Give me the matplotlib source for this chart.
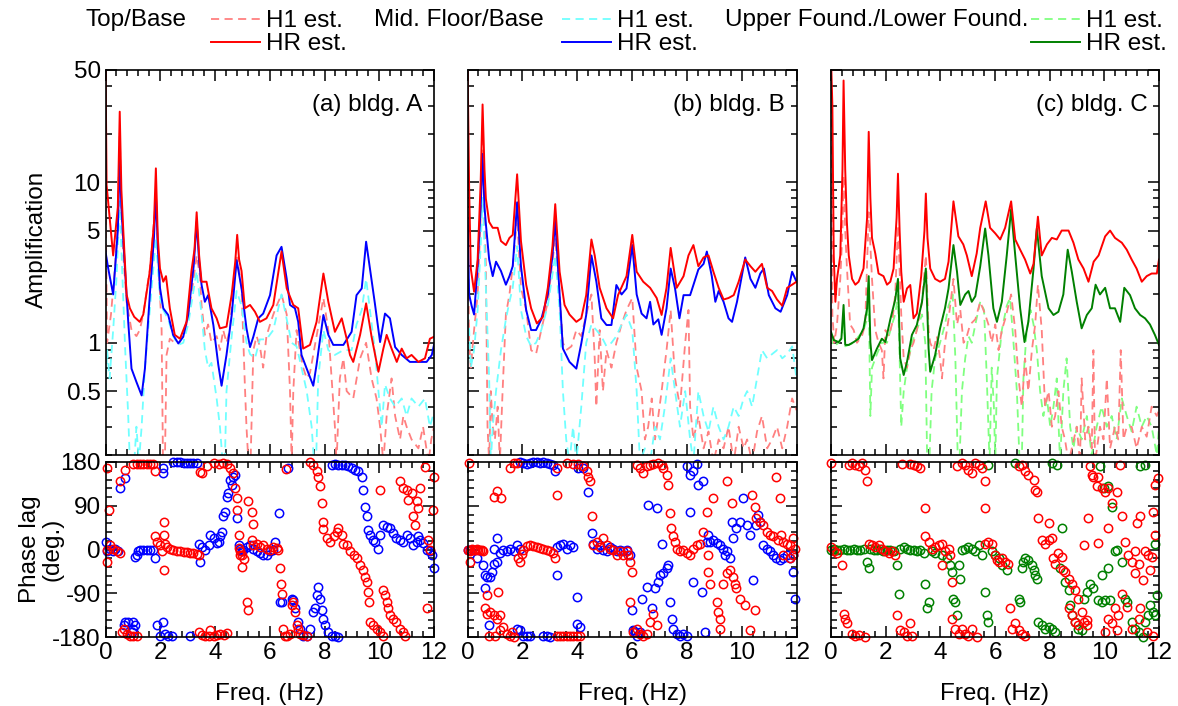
import numpy as np
import matplotlib
matplotlib.use("Agg")
import matplotlib.pyplot as plt
from matplotlib.ticker import FixedLocator, MultipleLocator, NullFormatter, FixedFormatter
from matplotlib.lines import Line2D

plt.rcParams['font.family'] = ['Liberation Sans', 'DejaVu Sans']
plt.rcParams['font.size'] = 17.5
plt.rcParams['axes.unicode_minus'] = False

# ---- amplitude curves (freq Hz, amplification) ----
a_top_hr = [(0.0, 60), (0.04, 9.6), (0.28, 3.5), (0.45, 7.0), (0.52, 27.5), (0.58, 9.0), (0.65, 5.0), (0.77, 2.0),
            (0.89, 1.64), (1.05, 1.45), (1.25, 1.35), (1.38, 1.5), (1.62, 2.8), (1.77, 5.5), (1.84, 12.2), (1.91, 4.5),
            (1.99, 2.9), (2.11, 2.4), (2.21, 2.6), (2.35, 1.64), (2.53, 1.12), (2.72, 1.06), (2.96, 1.35), (3.14, 2.8),
            (3.25, 3.8), (3.33, 6.5), (3.42, 3.5), (3.51, 2.4), (3.69, 2.4), (3.87, 1.64), (4.06, 1.42), (4.18, 1.23),
            (4.42, 1.26), (4.61, 2.0), (4.74, 3.2), (4.81, 4.7), (4.88, 3.3), (4.97, 2.8), (5.09, 1.64), (5.28, 1.72),
            (5.46, 1.56), (5.64, 1.35), (5.88, 1.42), (6.13, 1.72), (6.43, 3.7), (6.62, 2.18), (6.86, 1.72), (7.04, 1.64),
            (7.22, 0.92), (7.47, 0.97), (7.71, 1.35), (7.96, 2.7), (8.14, 1.8), (8.38, 1.17), (8.63, 1.42), (8.81, 1.06),
            (8.93, 0.84), (9.05, 0.76), (9.30, 1.12), (9.52, 1.76), (9.72, 1.09), (9.97, 0.66), (10.15, 0.92),
            (10.27, 1.12), (10.45, 0.92), (10.64, 0.76), (10.82, 0.92), (11.00, 0.80), (11.18, 0.84), (11.43, 0.76),
            (11.67, 0.80), (11.85, 1.06), (12.0, 1.09)]
a_mid_hr = [(0.0, 3.7), (0.10, 2.9), (0.28, 2.0), (0.45, 5.0), (0.52, 14.7), (0.58, 7.0), (0.65, 4.3), (0.83, 1.35),
            (0.95, 0.69), (1.13, 0.57), (1.32, 0.47), (1.44, 0.69), (1.62, 2.0), (1.77, 4.5), (1.84, 8.5), (1.91, 4.0),
            (1.99, 2.2), (2.11, 1.64), (2.29, 1.49), (2.47, 1.12), (2.66, 0.99), (2.84, 1.09), (3.02, 1.49), (3.22, 3.0),
            (3.33, 5.66), (3.42, 3.2), (3.51, 2.29), (3.63, 1.8), (3.75, 1.98), (3.94, 1.29), (4.12, 0.73), (4.24, 0.54),
            (4.42, 0.84), (4.61, 1.49), (4.79, 3.27), (4.97, 2.18), (5.15, 1.23), (5.28, 0.94), (5.40, 1.09),
            (5.58, 1.42), (5.76, 1.52), (6.01, 1.98), (6.25, 3.5), (6.43, 3.96), (6.62, 2.5), (6.74, 1.72), (6.92, 1.64),
            (7.04, 1.35), (7.16, 0.84), (7.35, 0.69), (7.59, 0.54), (7.71, 0.73), (7.96, 1.49), (8.14, 1.12),
            (8.32, 0.97), (8.69, 0.97), (8.99, 1.17), (9.17, 1.98), (9.36, 2.18), (9.52, 4.26), (9.66, 2.9),
            (9.84, 1.76), (10.03, 1.01), (10.21, 1.52), (10.39, 1.42), (10.58, 0.94), (10.82, 0.84), (11.12, 0.76),
            (11.43, 0.76), (11.73, 0.76), (11.92, 0.84), (12.0, 0.97)]
a_top_h1 = [(0.0, 9.0), (0.06, 1.0), (0.2, 1.5), (0.35, 3.0), (0.45, 6.0), (0.52, 20.6), (0.58, 7.0), (0.65, 3.5),
            (0.77, 1.8), (0.95, 1.2), (1.13, 1.1), (1.25, 1.2), (1.38, 1.5), (1.62, 2.9), (1.84, 7.9), (1.99, 2.0),
            (2.05, 1.2), (2.10, 0.18), (2.17, 0.18), (2.23, 0.84), (2.35, 1.06), (2.53, 1.0), (2.72, 1.01), (2.96, 1.3),
            (3.14, 2.0), (3.33, 3.5), (3.45, 2.6), (3.51, 1.7), (3.63, 1.12), (3.75, 1.3), (3.87, 1.0), (4.06, 1.1),
            (4.18, 0.9), (4.30, 1.2), (4.42, 1.0), (4.54, 1.2), (4.67, 2.3), (4.81, 3.4), (4.97, 2.2), (5.09, 0.55),
            (5.15, 0.3), (5.22, 0.18), (5.30, 0.18), (5.40, 0.9), (5.52, 1.1), (5.64, 0.95), (5.76, 0.7), (5.88, 1.1),
            (6.01, 1.3), (6.13, 1.5), (6.25, 1.7), (6.43, 2.0), (6.62, 1.5), (6.74, 0.5), (6.80, 0.18), (6.86, 0.5),
            (6.98, 1.2), (7.10, 0.9), (7.22, 0.7), (7.35, 0.6), (7.47, 0.65), (7.71, 1.1), (7.96, 1.9), (8.14, 1.2),
            (8.26, 0.6), (8.38, 0.3), (8.44, 0.18), (8.56, 0.6), (8.69, 0.8), (8.81, 0.5), (9.05, 0.45), (9.30, 0.8),
            (9.52, 1.0), (9.72, 0.6), (9.90, 0.45), (10.03, 0.3), (10.15, 0.18), (10.27, 0.35), (10.45, 0.6),
            (10.58, 0.35), (10.76, 0.25), (10.88, 0.35), (11.0, 0.3), (11.18, 0.25), (11.43, 0.22), (11.6, 0.3),
            (11.80, 0.18), (11.9, 0.25), (12.0, 0.3)]
a_mid_h1 = [(0.0, 0.5), (0.06, 0.9), (0.15, 0.6), (0.28, 1.2), (0.40, 2.5), (0.52, 7.6), (0.62, 2.5), (0.72, 0.9),
            (0.83, 0.35), (0.89, 0.18), (1.05, 0.18), (1.13, 0.3), (1.22, 0.18), (1.32, 0.3), (1.44, 0.7), (1.62, 1.6),
            (1.84, 4.5), (1.99, 1.9), (2.11, 1.6), (2.29, 1.4), (2.47, 1.1), (2.66, 0.97), (2.84, 1.0), (3.02, 1.3),
            (3.33, 2.8), (3.51, 1.5), (3.63, 0.9), (3.75, 0.7), (3.87, 0.75), (4.06, 0.45), (4.18, 0.3), (4.28, 0.18),
            (4.36, 0.18), (4.42, 0.5), (4.61, 1.1), (4.79, 2.1), (4.97, 1.7), (5.15, 1.0), (5.28, 0.85), (5.46, 0.8),
            (5.64, 1.05), (5.88, 1.05), (6.13, 1.2), (6.43, 2.0), (6.62, 1.4), (6.80, 1.0), (6.98, 0.95), (7.16, 0.7),
            (7.35, 0.5), (7.53, 0.3), (7.62, 0.18), (7.70, 0.2), (7.77, 0.6), (7.96, 1.2), (8.14, 0.9), (8.38, 0.84),
            (8.69, 0.9), (8.99, 0.9), (9.17, 1.3), (9.36, 1.6), (9.52, 2.5), (9.66, 1.6), (9.84, 0.9), (9.97, 0.5),
            (10.09, 0.3), (10.21, 0.55), (10.39, 0.45), (10.58, 0.4), (10.82, 0.45), (11.0, 0.35), (11.18, 0.45),
            (11.43, 0.4), (11.67, 0.45), (11.85, 0.3), (12.0, 0.37)]

b_top_hr = [(0.0, 60), (0.06, 9.1), (0.12, 2.9), (0.24, 2.08), (0.37, 3.3), (0.48, 10), (0.55, 30.5), (0.62, 12),
            (0.67, 7.9), (0.79, 5.66), (0.92, 5.2), (1.10, 5.2), (1.22, 4.3), (1.40, 4.06), (1.53, 4.5), (1.65, 4.7),
            (1.81, 11.2), (1.95, 4.3), (2.14, 2.3), (2.32, 1.64), (2.53, 1.32), (2.75, 1.45), (2.93, 2.2), (3.10, 4.0),
            (3.20, 7.3), (3.36, 2.77), (3.54, 1.72), (3.72, 1.5), (3.97, 1.35), (4.15, 1.42), (4.33, 1.98), (4.52, 4.4),
            (4.64, 3.5), (4.82, 2.2), (5.07, 1.64), (5.31, 1.42), (5.49, 1.98), (5.80, 2.6), (6.01, 4.7), (6.17, 2.77),
            (6.41, 2.4), (6.66, 2.2), (6.90, 1.9), (7.08, 1.49), (7.26, 2.2), (7.41, 3.9), (7.63, 2.2), (7.88, 2.6),
            (8.06, 3.5), (8.24, 4.06), (8.42, 3.0), (8.61, 3.4), (8.79, 3.5), (8.97, 2.77), (9.16, 2.2), (9.34, 1.86),
            (9.52, 1.9), (9.71, 1.98), (9.89, 2.4), (10.13, 3.3), (10.32, 3.0), (10.50, 2.77), (10.74, 3.1),
            (10.93, 2.2), (11.11, 2.1), (11.29, 1.86), (11.48, 1.7), (11.66, 2.2), (11.84, 2.3), (12.0, 2.4)]
b_mid_hr = [(0.0, 6.0), (0.06, 2.0), (0.15, 1.7), (0.24, 1.5), (0.37, 3.0), (0.48, 7), (0.55, 15), (0.62, 7),
            (0.67, 5.5), (0.79, 3.3), (0.92, 2.6), (1.04, 3.2), (1.22, 2.8), (1.40, 2.3), (1.53, 2.6), (1.65, 3.0),
            (1.81, 7.5), (1.95, 3.0), (2.14, 1.6), (2.32, 1.2), (2.50, 1.2), (2.69, 1.4), (2.93, 2.0), (3.10, 3.5),
            (3.20, 5.8), (3.36, 2.0), (3.48, 0.92), (3.72, 0.76), (3.97, 0.69), (4.15, 0.99), (4.33, 1.49), (4.52, 3.5),
            (4.70, 2.4), (4.88, 1.42), (5.07, 1.29), (5.25, 1.29), (5.43, 2.29), (5.62, 2.0), (5.80, 2.18), (6.01, 4.06),
            (6.17, 2.0), (6.35, 1.52), (6.53, 1.42), (6.66, 1.8), (6.78, 1.30), (6.96, 1.40), (7.08, 1.12), (7.26, 1.64),
            (7.41, 2.9), (7.57, 2.18), (7.73, 1.42), (7.88, 1.98), (8.12, 1.98), (8.24, 2.29), (8.42, 2.86), (8.61, 3.1),
            (8.73, 3.7), (8.91, 2.6), (9.04, 1.80), (9.16, 2.1), (9.34, 1.80), (9.52, 1.42), (9.65, 1.35), (9.83, 1.8),
            (10.13, 3.4), (10.32, 2.5), (10.50, 2.2), (10.68, 2.7), (10.81, 2.9), (10.99, 1.98), (11.23, 1.64),
            (11.42, 1.56), (11.66, 1.98), (11.84, 2.77), (12.0, 2.4)]
b_top_h1 = [(0.0, 8), (0.06, 1.0), (0.12, 0.7), (0.24, 1.2), (0.37, 2.0), (0.48, 6), (0.55, 20), (0.62, 6), (0.67, 3.0),
            (0.73, 0.3), (0.79, 0.18), (0.85, 0.5), (0.92, 0.3), (1.0, 0.25), (1.10, 0.4), (1.18, 0.18), (1.28, 0.5),
            (1.40, 1.5), (1.53, 2.0), (1.65, 3.0), (1.81, 6.0), (1.95, 2.2), (2.14, 1.6), (2.32, 0.9), (2.50, 0.85),
            (2.69, 1.2), (2.93, 1.8), (3.20, 4.5), (3.36, 2.0), (3.48, 1.0), (3.60, 0.9), (3.79, 0.95), (3.97, 1.2),
            (4.15, 1.1), (4.33, 1.5), (4.52, 2.0), (4.64, 0.8), (4.70, 0.4), (4.82, 1.2), (4.94, 0.5), (5.07, 0.9),
            (5.25, 0.7), (5.43, 1.0), (5.62, 1.3), (5.80, 1.6), (6.01, 1.9), (6.17, 0.7), (6.35, 0.5), (6.47, 0.25),
            (6.59, 0.3), (6.72, 0.45), (6.84, 0.25), (6.96, 0.35), (7.08, 0.5), (7.26, 0.9), (7.41, 1.6), (7.57, 0.6),
            (7.75, 0.4), (7.94, 1.0), (8.06, 1.6), (8.12, 0.4), (8.24, 0.25), (8.42, 0.35), (8.61, 0.22), (8.79, 0.28),
            (8.97, 0.18), (9.16, 0.25), (9.34, 0.22), (9.52, 0.3), (9.71, 0.18), (9.89, 0.3), (10.07, 0.22),
            (10.20, 0.25), (10.38, 0.18), (10.56, 0.28), (10.74, 0.35), (10.93, 0.22), (11.11, 0.25), (11.29, 0.3),
            (11.48, 0.22), (11.66, 0.3), (11.84, 0.45), (12.0, 0.38)]
b_mid_h1 = [(0.0, 1.5), (0.06, 1.2), (0.12, 0.7), (0.24, 0.9), (0.37, 1.6), (0.48, 4), (0.55, 8), (0.62, 4), (0.67, 2.2),
            (0.79, 0.6), (0.85, 0.18), (0.92, 0.3), (1.04, 0.5), (1.22, 0.9), (1.40, 1.4), (1.53, 1.8), (1.65, 2.2),
            (1.81, 4.0), (1.95, 1.6), (2.14, 1.1), (2.32, 0.95), (2.50, 1.0), (2.69, 1.2), (2.93, 1.7), (3.20, 3.5),
            (3.36, 1.6), (3.48, 0.5), (3.60, 0.25), (3.72, 0.18), (3.85, 0.3), (3.97, 0.18), (4.15, 0.4), (4.33, 1.0),
            (4.52, 1.3), (4.70, 1.2), (4.88, 1.1), (5.07, 0.95), (5.25, 1.0), (5.43, 1.1), (5.62, 1.3), (5.80, 1.5),
            (6.01, 1.2), (6.17, 0.5), (6.29, 0.18), (6.47, 0.22), (6.66, 0.18), (6.84, 0.3), (7.02, 0.25), (7.20, 0.4),
            (7.41, 0.8), (7.57, 0.5), (7.75, 0.3), (7.94, 0.5), (8.12, 0.25), (8.24, 0.18), (8.42, 0.5), (8.61, 0.35),
            (8.79, 0.28), (8.97, 0.4), (9.16, 0.3), (9.34, 0.25), (9.52, 0.3), (9.71, 0.4), (9.89, 0.35), (10.07, 0.45),
            (10.20, 0.5), (10.38, 0.4), (10.56, 0.6), (10.74, 0.9), (10.93, 0.8), (11.11, 0.85), (11.29, 0.9),
            (11.48, 0.8), (11.66, 0.85), (11.84, 0.95), (12.0, 0.6)]

c_top_hr = [(0.0, 60), (0.05, 30), (0.10, 3.5), (0.16, 1.8), (0.22, 2.5), (0.34, 3.5), (0.42, 12), (0.46, 43),
            (0.52, 12), (0.58, 5.66), (0.65, 3.5), (0.77, 2.5), (0.89, 2.3), (1.01, 2.4), (1.19, 2.9), (1.32, 6.0),
            (1.38, 20.6), (1.44, 8.0), (1.50, 4.5), (1.62, 3.6), (1.74, 2.7), (1.92, 2.6), (2.05, 2.3), (2.17, 2.4),
            (2.29, 2.9), (2.40, 6.0), (2.45, 11.3), (2.51, 5.0), (2.57, 2.77), (2.66, 1.8), (2.78, 2.18), (2.90, 2.29),
            (3.02, 1.42), (3.14, 1.52), (3.30, 2.6), (3.42, 5.0), (3.47, 8.5), (3.53, 4.5), (3.63, 2.9), (3.81, 2.5),
            (3.99, 2.4), (4.17, 2.5), (4.30, 3.2), (4.48, 7.6), (4.66, 4.6), (4.84, 4.1), (4.97, 3.5), (5.15, 2.6),
            (5.33, 3.6), (5.46, 5.2), (5.66, 7.6), (5.82, 5.2), (6.01, 4.8), (6.19, 4.4), (6.37, 5.2), (6.59, 7.6),
            (6.74, 4.4), (6.92, 3.8), (7.10, 3.3), (7.29, 2.7), (7.41, 3.1), (7.57, 6.1), (7.71, 3.5), (7.90, 4.1),
            (8.08, 4.5), (8.26, 4.4), (8.44, 5.0), (8.69, 5.0), (8.87, 4.2), (9.05, 3.3), (9.24, 2.9), (9.42, 2.4),
            (9.61, 3.2), (9.79, 3.5), (10.03, 4.6), (10.21, 5.0), (10.39, 4.5), (10.64, 4.2), (10.82, 3.8),
            (11.00, 3.3), (11.18, 2.9), (11.37, 2.4), (11.55, 2.6), (11.73, 2.7), (11.92, 2.7), (12.0, 3.3)]
c_low_hr = [(0.0, 1.17), (0.10, 1.04), (0.28, 1.01), (0.38, 1.06), (0.46, 1.72), (0.52, 0.97), (0.65, 0.97),
            (0.83, 1.01), (1.01, 1.06), (1.19, 1.23), (1.32, 1.64), (1.38, 2.6), (1.44, 1.01), (1.50, 0.78),
            (1.68, 0.92), (1.86, 1.06), (1.99, 1.01), (2.17, 1.40), (2.35, 1.86), (2.45, 2.5), (2.53, 0.80),
            (2.66, 0.63), (2.78, 0.76), (2.96, 1.12), (3.14, 1.29), (3.33, 1.80), (3.47, 2.9), (3.57, 0.92),
            (3.63, 0.66), (3.81, 0.84), (3.99, 1.23), (4.17, 1.64), (4.30, 2.18), (4.48, 4.06), (4.61, 2.77),
            (4.73, 1.72), (4.91, 2.0), (5.03, 2.1), (5.15, 1.80), (5.28, 1.95), (5.46, 3.0), (5.64, 5.15), (5.76, 3.5),
            (5.94, 1.64), (6.07, 1.35), (6.25, 1.80), (6.43, 3.5), (6.59, 6.8), (6.74, 3.5), (6.92, 1.64), (7.08, 1.01),
            (7.22, 1.35), (7.41, 2.9), (7.53, 5.15), (7.71, 2.6), (7.96, 1.64), (8.14, 1.49), (8.32, 1.56), (8.50, 2.0),
            (8.66, 3.8), (8.81, 2.77), (8.99, 1.80), (9.17, 1.23), (9.36, 1.49), (9.54, 1.64), (9.68, 2.3), (9.84, 2.0),
            (10.03, 2.2), (10.21, 1.64), (10.39, 1.64), (10.58, 1.35), (10.73, 2.2), (10.94, 1.98), (11.12, 1.64),
            (11.31, 1.49), (11.49, 1.42), (11.67, 1.30), (11.85, 1.12), (12.0, 0.97)]
c_top_h1 = [(0.0, 30), (0.05, 1.5), (0.12, 1.0), (0.22, 1.3), (0.34, 2.5), (0.42, 5), (0.46, 11), (0.52, 5), (0.58, 3.0),
            (0.70, 1.3), (0.83, 1.2), (0.95, 1.0), (1.13, 1.1), (1.25, 1.3), (1.38, 6.5), (1.50, 2.5), (1.62, 1.2),
            (1.74, 1.0), (1.86, 0.9), (1.92, 0.6), (1.99, 1.2), (2.11, 1.1), (2.23, 1.3), (2.35, 2.0), (2.45, 5.4),
            (2.57, 1.5), (2.66, 0.8), (2.78, 0.7), (2.90, 0.9), (3.02, 1.0), (3.14, 1.2), (3.33, 1.8), (3.47, 3.5),
            (3.57, 1.2), (3.63, 1.0), (3.75, 0.9), (3.87, 1.1), (3.99, 0.8), (4.06, 0.6), (4.17, 1.0), (4.30, 1.4),
            (4.48, 2.5), (4.61, 1.3), (4.73, 1.6), (4.85, 1.0), (4.97, 1.1), (5.09, 1.3), (5.28, 1.4), (5.46, 1.8),
            (5.64, 1.5), (5.76, 1.3), (5.88, 1.0), (6.01, 1.3), (6.13, 0.9), (6.25, 1.2), (6.37, 1.4), (6.59, 2.0),
            (6.74, 1.2), (6.86, 0.6), (6.98, 0.4), (7.10, 0.8), (7.22, 0.5), (7.35, 0.9), (7.47, 1.3), (7.57, 2.3),
            (7.71, 1.2), (7.83, 0.4), (7.96, 0.5), (8.08, 0.3), (8.20, 0.35), (8.32, 0.5), (8.44, 0.3), (8.56, 0.25),
            (8.69, 0.18), (8.81, 0.22), (8.99, 0.3), (9.11, 0.18), (9.17, 0.6), (9.30, 0.25), (9.42, 0.3), (9.54, 0.22),
            (9.60, 0.9), (9.66, 0.18), (9.84, 0.3), (9.97, 0.25), (10.09, 0.6), (10.21, 0.22), (10.39, 0.3),
            (10.51, 0.25), (10.60, 0.9), (10.70, 0.25), (10.82, 0.3), (11.00, 0.3), (11.18, 0.22), (11.37, 0.3),
            (11.55, 0.26), (11.73, 0.4), (11.92, 0.35), (12.0, 0.38)]
c_low_h1 = [(0.0, 1.1), (0.10, 0.95), (0.28, 1.0), (0.40, 1.1), (0.46, 1.4), (0.52, 0.95), (0.83, 1.0), (1.19, 1.2),
            (1.32, 1.4), (1.38, 2.0), (1.44, 0.35), (1.50, 0.7), (1.68, 0.85), (1.86, 1.0), (2.05, 1.0), (2.23, 1.3),
            (2.35, 1.5), (2.45, 2.0), (2.52, 0.7), (2.57, 0.3), (2.66, 0.5), (2.78, 0.7), (2.96, 1.0), (3.14, 1.2),
            (3.33, 1.5), (3.45, 1.0), (3.52, 0.18), (3.60, 0.18), (3.68, 0.5), (3.81, 0.8), (3.99, 1.0), (4.17, 1.3),
            (4.30, 1.7), (4.45, 2.0), (4.55, 0.8), (4.64, 0.18), (4.70, 0.18), (4.79, 0.5), (4.91, 0.8), (5.03, 1.1),
            (5.15, 1.0), (5.28, 1.3), (5.46, 1.8), (5.60, 1.6), (5.70, 0.6), (5.80, 0.18), (5.88, 0.7), (5.96, 0.4),
            (6.01, 0.18), (6.07, 0.6), (6.25, 1.2), (6.43, 1.7), (6.55, 1.9), (6.66, 1.1), (6.80, 0.5), (6.90, 0.18),
            (6.98, 0.18), (7.04, 0.6), (7.16, 1.2), (7.30, 1.6), (7.41, 1.3), (7.53, 0.9), (7.65, 0.5), (7.77, 0.35),
            (7.90, 0.45), (8.02, 0.3), (8.14, 0.4), (8.26, 0.6), (8.38, 0.18), (8.50, 0.5), (8.62, 0.8), (8.75, 0.3),
            (8.87, 0.22), (8.99, 0.3), (9.17, 0.25), (9.36, 0.35), (9.54, 0.2), (9.72, 0.3), (9.90, 0.4), (10.09, 0.3),
            (10.27, 0.35), (10.45, 0.25), (10.64, 0.45), (10.82, 0.35), (11.00, 0.28), (11.18, 0.4), (11.37, 0.3),
            (11.55, 0.35), (11.73, 0.3), (11.92, 0.2), (12.0, 0.3)]

# ---- phase lag points (freq Hz, deg.) ----
pa_top = [(0.05, 168), (0.13, 82), (0.05, 0), (0.07, -25), (0.17, 9), (0.29, 2), (0.41, -4), (0.54, -8), (0.60, -170),
          (0.54, 140), (0.72, 164), (0.66, -163), (0.78, -173), (0.90, -177), (1.02, -177), (1.14, -177), (1.02, 176),
          (1.14, 176), (1.26, 176), (1.38, 176), (1.50, 176), (1.62, 176), (1.75, 175), (1.81, 161), (1.81, 27),
          (1.87, 16), (2.0, 9), (2.06, -4), (2.12, -42), (2.15, 57), (2.12, 30), (2.18, 12), (2.24, 5), (2.36, 2),
          (2.48, -1), (2.6, -3), (2.73, -4), (2.85, -5), (2.97, -6), (3.09, -7), (3.21, -8), (3.33, -9), (3.40, -11),
          (3.40, -170), (3.52, -175), (3.65, -177), (3.77, -178), (3.83, -165), (3.95, -177), (4.07, -176),
          (4.2, -174), (4.32, -175), (4.44, -171), (3.46, 159), (3.52, 157), (3.71, 171), (3.95, 178), (4.13, 175),
          (4.31, 178), (4.43, 175), (4.55, 168), (4.67, 157), (4.73, 126), (4.80, 106), (4.82, 82), (4.86, 30),
          (4.90, -12), (4.99, -35), (4.87, 4), (4.93, -3), (5.0, -11), (5.05, -20), (5.22, 99), (5.34, 77), (5.38, 52),
          (5.22, -125), (5.16, -108), (5.34, 20), (5.40, 9), (5.52, 12), (5.64, 5), (5.76, 9), (5.89, 2), (6.01, -1),
          (6.13, 5), (6.25, 3), (6.31, -1), (6.38, -39), (6.41, -70), (6.44, -91), (6.50, -163), (6.56, -177),
          (6.62, -177), (6.74, -173), (6.58, 166), (6.80, -115), (6.86, -108), (6.92, -128), (6.98, -156),
          (7.04, -163), (7.10, -173), (7.22, -176), (7.35, -177), (7.47, 180), (7.59, 174), (7.71, 161), (7.77, 150),
          (7.84, 130), (7.90, 95), (7.93, 57), (7.95, 43), (8.08, 23), (8.20, 16), (8.33, 27), (8.45, 37), (8.51, 44),
          (8.63, 30), (8.69, 12), (8.81, 9), (8.94, -4), (9.06, -11), (9.18, -18), (9.30, -32), (9.42, -42),
          (9.48, -56), (9.54, -66), (9.60, -87), (9.62, -108), (9.66, -149), (9.78, -156), (9.90, -163),
          (10.03, -170), (10.15, -177), (10.15, -84), (10.21, -94), (10.27, -108), (10.33, -121), (10.39, -135),
          (10.51, -142), (10.63, -149), (10.76, -163), (10.88, -170), (10.94, -177), (10.03, 123), (10.76, 140),
          (10.88, 126), (11.0, 123), (11.06, 102), (11.18, 116), (11.25, 68), (11.31, 51), (11.37, 99), (11.43, 85),
          (11.49, 126), (11.67, 170), (11.73, -121), (11.79, 20), (11.85, 0), (11.98, 82), (12.0, 150)]
pa_mid = [(0.02, 16), (0.05, -4), (0.17, 2), (0.29, -4), (0.35, 2), (0.47, -4), (0.54, 126), (0.72, 147),
          (0.66, -156), (0.72, -149), (0.84, -149), (1.02, -149), (1.08, -156), (1.02, -163), (0.96, -170),
          (1.08, -15), (1.14, -11), (1.20, -4), (1.26, 0), (1.38, 0), (1.50, 0), (1.62, 0), (1.75, 0), (1.81, -18),
          (2.09, 168), (2.11, 157), (1.87, -156), (2.11, -149), (2.18, -173), (2.3, -177), (2.42, -177),
          (1.99, -177), (2.48, 180), (2.6, 180), (2.72, 180), (2.85, 178), (2.97, 178), (3.09, 178), (3.21, 178),
          (3.33, 178), (3.09, -177), (3.40, 12), (3.46, -25), (3.52, 5), (3.65, -2), (3.77, 9), (3.82, 30), (3.95, 23),
          (4.07, 13), (4.13, 16), (4.19, 27), (4.25, 37), (4.31, 68), (4.37, 78), (4.43, 109), (4.49, 116),
          (4.55, 143), (4.61, 133), (4.67, 150), (4.73, 154), (4.80, 64), (4.86, 9), (4.92, 2), (4.98, -4), (5.04, -1),
          (5.16, 5), (5.28, 9), (5.40, 2), (5.52, -4), (5.65, -8), (5.77, -11), (5.89, -11), (6.01, -4), (6.13, 0),
          (6.2, 16), (6.32, 75), (6.38, -108), (6.44, -108), (6.68, 168), (6.8, -101), (6.86, -104), (6.92, -121),
          (7.04, -149), (7.10, -163), (7.22, -177), (7.35, -177), (7.47, -163), (7.59, -128), (7.65, -121),
          (7.72, -94), (7.78, -77), (7.84, -101), (7.9, -125), (7.96, -142), (8.02, -156), (8.14, -170),
          (8.26, -177), (8.38, -177), (8.5, -180), (8.26, 174), (8.38, 176), (8.5, 174), (8.63, 174), (8.75, 173),
          (8.87, 171), (8.99, 168), (9.11, 164), (9.23, 161), (9.36, 150), (9.42, 123), (9.48, 88), (9.54, 68),
          (9.60, 40), (9.66, 30), (9.78, 20), (9.84, 16), (9.97, 2), (10.03, 30), (10.15, 51), (10.27, 47),
          (10.39, 44), (10.51, 33), (10.63, 23), (10.76, 20), (10.88, 16), (11.0, 30), (11.12, 23), (11.25, 9),
          (11.37, 16), (11.43, 27), (11.49, 20), (11.61, 13), (11.73, 0), (11.85, -4), (11.91, -11), (12.0, -39)]
pb_top = [(0.04, 178), (0.0, 0), (0.1, -25), (0.1, -3), (0.16, 2), (0.22, 0), (0.28, -2), (0.34, 2), (0.40, 0),
          (0.46, -2), (0.52, 0), (0.58, -4), (0.70, -94), (0.64, -121), (0.70, -132), (0.83, -128), (0.95, -135),
          (1.07, -142), (1.19, -135), (0.77, -177), (1.01, -177), (1.19, -166), (1.31, -159), (1.43, -173),
          (1.55, -177), (1.62, -170), (1.68, -180), (0.95, 109), (1.07, 120), (1.23, 106), (1.13, -87), (1.55, 168),
          (1.68, 178), (1.80, 178), (1.86, -18), (1.92, -25), (1.98, -10), (2.04, 0), (2.16, 7), (2.28, 9), (2.40, 8),
          (2.53, 6), (2.65, 4), (2.77, 2), (2.89, 0), (3.01, -4), (3.13, -8), (3.19, -18), (3.26, 113), (3.26, 168),
          (3.26, -177), (3.38, -177), (3.50, -177), (3.62, -177), (3.74, -177), (3.86, -177), (3.98, -177),
          (4.11, -177), (3.62, 178), (3.86, 175), (4.04, 175), (4.23, 171), (4.35, 161), (4.41, 150), (4.47, 140),
          (4.53, 68), (4.59, 9), (4.71, 16), (4.83, 5), (4.96, 23), (5.08, 9), (5.20, 2), (5.32, -1), (5.44, -11),
          (5.56, -4), (5.68, -11), (5.81, -4), (5.87, -11), (5.93, -25), (5.99, -46), (5.93, -108), (6.05, -170),
          (6.17, -163), (6.29, -173), (6.41, -177), (6.53, -173), (6.66, -149), (6.78, -132), (6.90, -156),
          (6.17, 174), (6.29, 168), (6.41, 157), (6.53, 171), (6.66, 174), (6.78, 176), (6.96, 178), (7.08, 174),
          (7.14, 168), (7.26, 154), (7.33, 133), (7.40, 75), (7.44, 44), (7.51, 27), (7.57, 16), (7.63, 2), (7.75, -4),
          (7.87, 0), (7.99, -8), (8.11, -11), (8.24, 2), (8.36, 9), (8.48, 12), (8.60, 37), (8.72, 78), (8.78, -11),
          (8.78, -46), (8.84, -70), (8.96, 106), (9.09, -108), (9.15, -128), (9.21, -142), (9.21, -163), (9.33, -70),
          (9.45, 140), (9.45, -49), (9.57, -42), (9.63, 95), (9.69, -56), (9.75, -70), (9.81, -80), (9.94, -101),
          (10.12, -115), (10.30, -166), (10.36, 113), (10.48, 88), (10.48, -125), (10.54, 64), (10.66, 57),
          (10.79, 50), (10.91, 37), (11.03, 30), (11.15, 27), (11.27, 150), (11.39, 106), (11.33, 20), (11.45, 30),
          (11.51, 16), (11.64, 12), (11.76, 9), (11.88, 23), (11.94, 2), (11.88, -11), (11.76, -18), (11.51, -11)]
pb_mid = [(0.0, 0), (0.1, -1), (0.34, -18), (0.58, -32), (0.64, -53), (0.70, -56), (0.83, -56), (0.89, -46),
          (0.95, -29), (1.07, -25), (1.07, 23), (0.95, 2), (1.19, -8), (1.31, -1), (1.43, -4), (1.55, 2), (1.68, -4),
          (1.80, 9), (1.92, 2), (0.64, -80), (0.77, -156), (1.80, -163), (1.92, -166), (2.04, -177), (2.16, -177),
          (2.28, -177), (1.92, 180), (2.04, 178), (2.16, 176), (2.28, 178), (2.40, 180), (2.53, 180), (2.65, 178),
          (2.77, 180), (2.89, 178), (3.01, 176), (3.13, 174), (3.19, 161), (3.26, -53), (2.77, -177), (2.89, -177),
          (3.01, -180), (3.26, 5), (3.38, 9), (3.50, 12), (3.62, 2), (3.74, 9), (3.86, 5), (3.98, -97), (3.98, -153),
          (4.11, -159), (4.04, 168), (4.23, 168), (4.41, 119), (4.53, 33), (4.59, 12), (4.71, 2), (4.83, 9),
          (4.96, -1), (5.08, -4), (5.20, 5), (5.32, 2), (5.44, -4), (5.56, -1), (5.68, -4), (5.81, -1), (5.93, -11),
          (6.00, -125), (6.05, -166), (6.11, -170), (6.17, -177), (6.29, -170), (6.35, -101), (6.53, -77),
          (6.60, 92), (6.90, 85), (6.72, -121), (6.84, -80), (6.96, -66), (7.02, -53), (7.14, -49), (7.26, -39),
          (7.33, -32), (7.08, 12), (7.39, -108), (7.45, -142), (7.51, -163), (7.63, -173), (7.75, -177),
          (7.87, -173), (7.99, -177), (8.11, 78), (8.24, -66), (8.54, -87), (7.99, 171), (8.11, 154), (8.24, 161),
          (8.36, 176), (8.42, 133), (8.60, 140), (8.66, -170), (8.72, 16), (8.78, 30), (8.84, 16), (8.96, 20),
          (9.09, 13), (9.21, 9), (9.33, 2), (9.39, -11), (9.45, -4), (9.57, -18), (9.69, 23), (9.63, 57), (9.81, 44),
          (9.94, 57), (10.06, 106), (10.18, 51), (10.30, 30), (10.42, -63), (10.54, 51), (10.60, 71), (10.66, 57),
          (10.79, 9), (10.91, 2), (11.03, -4), (11.15, -11), (11.27, -18), (11.39, -21), (11.51, -18), (11.64, -11),
          (11.76, -18), (11.88, -46), (11.94, -101), (11.88, -11)]
pc_top = [(0.0, 178), (0.0, 5), (0.1, -4), (0.22, -8), (0.4, -32), (0.46, -132), (0.52, -142), (0.58, -152),
          (0.65, 174), (0.77, 178), (0.89, 174), (1.01, 171), (1.13, 178), (1.25, 164), (1.32, 140), (0.77, -173),
          (0.89, -177), (1.01, -175), (1.25, -180), (1.38, 12), (1.50, 9), (1.62, 5), (1.74, 9), (1.86, 2),
          (1.99, -4), (2.11, -8), (2.23, -4), (2.35, -11), (2.41, -135), (2.53, -166), (2.66, -170), (2.78, -177),
          (2.90, -152), (2.96, -177), (2.60, 176), (2.90, 176), (3.02, 174), (3.14, 171), (3.27, 168), (3.45, 85),
          (3.45, 27), (3.57, 16), (3.69, 2), (3.81, 5), (3.94, 9), (4.06, 12), (4.18, -4), (4.30, 2), (4.36, -11),
          (4.06, -32), (4.42, -66), (4.61, 171), (4.79, 178), (4.91, 174), (5.03, 164), (5.15, 157), (5.28, 178),
          (5.40, 174), (5.52, 168), (5.64, 140), (5.64, 85), (5.64, 12), (5.76, 16), (5.88, 12), (6.01, -11),
          (6.07, -22), (6.13, -25), (6.25, -18), (6.37, -25), (6.49, -29), (6.55, -121), (4.42, -142), (4.54, -163),
          (4.67, -173), (4.79, -163), (4.91, -173), (5.03, -177), (5.15, -163), (5.34, -180), (6.62, -163),
          (6.74, -152), (6.86, -166), (6.98, -173), (7.10, -177), (6.86, 171), (6.98, 174), (7.10, 161), (7.22, 154),
          (7.41, 143), (7.47, 123), (7.53, 119), (7.59, 64), (7.71, 20), (7.83, 12), (7.96, 20), (8.08, 23),
          (7.96, 54), (8.14, -18), (8.20, -29), (8.32, -8), (8.44, -15), (8.50, -42), (8.56, -46), (8.69, -60),
          (8.81, -70), (8.93, -84), (9.05, -101), (9.17, -128), (9.36, -145), (8.69, -121), (8.81, -135),
          (8.93, -149), (9.05, -156), (9.24, -149), (9.36, -156), (9.48, 171), (9.54, 154), (9.60, 150), (9.72, 130),
          (9.78, 150), (9.90, 126), (10.03, 119), (10.15, 126), (10.27, 95), (10.45, 119), (10.58, 174), (9.42, 64),
          (9.24, 9), (9.78, 13), (10.15, 44), (10.64, 68), (10.76, 16), (10.88, -11), (11.00, -25), (11.12, -4),
          (11.18, 54), (11.25, -29), (11.31, 68), (11.49, -4), (11.61, -11), (11.67, -42), (11.73, -15), (11.79, 78),
          (11.85, 30), (11.98, 147), (11.85, 133), (10.39, -121), (10.51, -135), (10.64, -91), (10.82, -118),
          (11.00, -163), (11.55, -170), (11.31, -121), (11.43, -63), (11.12, -49), (10.03, -170), (10.15, -142),
          (10.27, -152), (10.45, -166), (11.25, -142), (11.79, -177)]
pc_low = [(0.0, 0), (0.1, 2), (0.22, 0), (0.34, 0), (0.46, 2), (0.58, 0), (0.70, 0), (0.83, 2), (0.95, 0), (1.07, 0),
          (1.19, 2), (1.32, -25), (1.38, -39), (1.44, 2), (1.56, -1), (1.68, 0), (1.80, 2), (1.92, -4), (2.05, -1),
          (2.17, 0), (2.29, -4), (2.41, -32), (2.47, -91), (2.53, 2), (2.66, 5), (2.78, 2), (2.90, 0), (3.02, -1),
          (3.14, -4), (3.27, -1), (3.39, -8), (3.45, -70), (3.57, -108), (3.51, -121), (3.69, -4), (3.81, -8),
          (4.06, -11), (4.24, -18), (4.36, -32), (4.42, -46), (4.48, -101), (4.54, -108), (4.61, -135), (4.67, -32),
          (4.73, -60), (4.79, 0), (4.91, 2), (5.03, 5), (5.15, 2), (5.28, -4), (5.40, 9), (5.52, -11), (5.64, -87),
          (5.70, -135), (5.76, -149), (5.76, 174), (5.88, -4), (6.01, -11), (6.13, -18), (6.25, -32), (6.43, -42),
          (6.74, 178), (6.86, -101), (6.92, -108), (6.98, -39), (7.04, -25), (7.10, -18), (7.22, -22), (7.35, -32),
          (7.41, -42), (7.47, -53), (7.53, -60), (7.59, -149), (7.71, -156), (7.83, -163), (7.96, -159), (8.08, -163),
          (8.20, -170), (8.08, 178), (8.26, 174), (8.44, 44), (8.38, -39), (8.56, -66), (8.69, -84), (8.75, -115),
          (8.81, -135), (8.93, -149), (9.05, -163), (9.17, -166), (9.24, -101), (9.36, -87), (9.48, -70),
          (9.60, -80), (9.78, -104), (9.90, -108), (10.03, -104), (10.21, -104), (10.15, -39), (9.90, -53),
          (10.39, -4), (10.45, 0), (10.64, -25), (10.76, -101), (10.82, -108), (11.00, -149), (11.12, -163),
          (11.25, -170), (11.43, -180), (11.49, -149), (11.61, -135), (11.67, -115), (11.79, -128), (11.85, -135),
          (11.91, -94), (11.85, 12), (11.31, 171), (11.49, 174), (9.84, 171), (9.97, 126), (10.15, 130), (10.27, 88)]

panel_tags = ['(a) bldg. A', '(b) bldg. B', '(c) bldg. C']
amp_ticks = [0.5, 1, 5, 10, 50]
amp_ticklabels = ['0.5', '1', '5', '10', '50']
phase_ticks = [-180, -90, 0, 90, 180]

RED, BLUE, GREEN = '#ff0000', '#0000ff', '#008000'
PINK, CYAN, LGREEN = '#ff8080', '#70ffff', '#80ff80'
DASH = (4.5, 3)

panels = [
    dict(tag=panel_tags[0], h1=[(a_top_h1, PINK), (a_mid_h1, CYAN)], hr=[(a_mid_hr, BLUE), (a_top_hr, RED)],
         ph=[(pa_mid, BLUE), (pa_top, RED)]),
    dict(tag=panel_tags[1], h1=[(b_top_h1, PINK), (b_mid_h1, CYAN)], hr=[(b_mid_hr, BLUE), (b_top_hr, RED)],
         ph=[(pb_mid, BLUE), (pb_top, RED)]),
    dict(tag=panel_tags[2], h1=[(c_low_h1, LGREEN), (c_top_h1, PINK)], hr=[(c_low_hr, GREEN), (c_top_hr, RED)],
         ph=[(pc_low, GREEN), (pc_top, RED)]),
]

W, H = 1178, 706
fig = plt.figure(figsize=(W / 100, H / 100), dpi=100)


def rect(x0, x1, y0, y1):
    return [x0 / W, 1 - y1 / H, (x1 - x0) / W, (y1 - y0) / H]


xspans = [(105.5, 434), (467.5, 796.5), (831, 1159)]


def style(ax):
    ax.tick_params(which='both', direction='in', top=True, right=True, width=1.1)
    ax.tick_params(which='major', length=8)
    ax.tick_params(which='minor', length=4)
    for s in ax.spines.values():
        s.set_linewidth(1.2)
    ax.set_xlim(0, 12)
    ax.xaxis.set_major_locator(MultipleLocator(2))
    ax.xaxis.set_minor_locator(MultipleLocator(0.4))


for i, p in enumerate(panels):
    x0, x1 = xspans[i]
    amp = fig.add_axes(rect(x0, x1, 70, 455))
    ph = fig.add_axes(rect(x0, x1, 462, 637))
    style(amp)
    style(ph)

    for pts, col in p['h1']:
        f, v = np.array(pts).T
        amp.plot(f, v, color=col, lw=1.3, dashes=DASH)
    for pts, col in p['hr']:
        f, v = np.array(pts).T
        amp.plot(f, v, color=col, lw=1.4)
    amp.set_yscale('log')
    amp.set_ylim(0.2, 50)
    amp.yaxis.set_major_locator(FixedLocator(amp_ticks))
    amp.yaxis.set_minor_locator(FixedLocator([0.2, 0.3, 0.4, 0.6, 0.7, 0.8, 0.9, 2, 3, 4, 6, 7, 8, 9, 20, 30, 40]))
    amp.yaxis.set_minor_formatter(NullFormatter())
    if i == 0:
        amp.yaxis.set_major_formatter(FixedFormatter(amp_ticklabels))
        amp.set_ylabel('Amplification')
        amp.yaxis.set_label_coords(-0.175, 0.56)
    else:
        amp.yaxis.set_major_formatter(NullFormatter())
    amp.tick_params(labelbottom=False)
    amp.text(0.965, 0.91, p['tag'], transform=amp.transAxes, ha='right', va='center')

    for pts, col in p['ph']:
        f, d = np.array(pts).T
        ph.plot(f, d, ls='none', marker='o', ms=6, mfc='none', mec=col, mew=1.1, clip_on=False)
    ph.set_ylim(-180, 180)
    ph.yaxis.set_major_locator(FixedLocator(phase_ticks))
    ph.yaxis.set_minor_locator(MultipleLocator(18))
    if i == 0:
        ph.set_ylabel('Phase lag\n(deg.)', linespacing=1.0)
        ph.yaxis.set_label_coords(-0.128, 0.5)
    else:
        ph.tick_params(labelleft=False)
    ph.set_xlabel('Freq. (Hz)', labelpad=14)

# ---- legend at top ----
groups = [('Top/Base', 85, PINK, RED), ('Mid. Floor/Base', 374, CYAN, BLUE),
          ('Upper Found./Lower Found.', 725, LGREEN, GREEN)]
handle_x = [211, 562, 1031]
for (name, tx, c1, c2), hx in zip(groups, handle_x):
    fig.text(tx / W, 1 - 20 / H, name, ha='left', va='center')
    hs = [Line2D([], [], color=c1, lw=1.3, dashes=DASH), Line2D([], [], color=c2, lw=1.4)]
    fig.legend(hs, ['H1 est.', 'HR est.'], loc='upper left', bbox_to_anchor=(hx / W, 1 - 10 / H),
               frameon=False, handlelength=2.0, handletextpad=0.25, labelspacing=0.05, borderpad=0,
               borderaxespad=0)

fig.savefig('out.png', dpi=100)
